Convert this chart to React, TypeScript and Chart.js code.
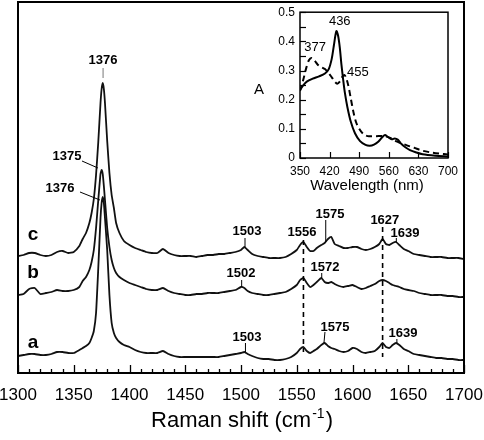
import React, { useEffect, useRef } from "react";
import { Chart, registerables } from "chart.js";

Chart.register(...registerables);

const FONT = 'Arial, "Liberation Sans", Helvetica, sans-serif';

// ---------- Main Raman spectra ----------
const ramanShift = [
  1300, 1305, 1310, 1315, 1320, 1325, 1330, 1335, 1340, 1345, 1350, 1355,
  1358, 1361, 1364, 1366, 1368, 1370, 1372, 1374, 1375, 1376, 1377, 1378, 1380, 1382, 1384, 1386, 1388, 1391, 1395,
  1400, 1405, 1410, 1415, 1420, 1425, 1430, 1435, 1440, 1445, 1450, 1455, 1460, 1465, 1470, 1475, 1480, 1485, 1490, 1495, 1500,
  1503, 1506,
  1510, 1515, 1520, 1525, 1530, 1535, 1540, 1545, 1550,
  1553, 1556, 1559, 1562, 1565, 1568, 1572, 1575, 1578, 1581, 1584, 1588, 1592, 1596, 1600, 1604, 1608, 1612, 1616, 1620, 1624, 1627, 1630, 1633, 1636, 1639, 1642, 1646, 1650,
  1655, 1660, 1665, 1670, 1675, 1680, 1685, 1690, 1695, 1700,
];

const traceC = [
  117, 118, 120, 120, 118, 117, 118, 121, 122, 120, 121, 127,
  134, 140, 150, 160, 174, 198, 231, 270, 284, 290, 284, 270, 232, 200, 178, 165, 150, 140, 132,
  128, 125, 123, 121, 120, 120, 124, 120, 118, 117, 117, 117, 116, 117, 118, 118, 119, 119, 120, 121, 123,
  126, 123,
  119, 117, 116, 115, 115, 115, 116, 119, 123,
  128, 131, 126, 122, 122, 125, 128, 130, 134, 136, 129, 127, 125, 125, 126, 126, 124, 123, 124, 126, 129, 134, 129, 128, 130, 131, 128, 124, 122,
  119, 118, 117, 116, 116, 116, 115, 115, 115, 114,
];

const traceB = [
  78, 79, 84, 85, 79, 80, 81, 83, 82, 82, 83, 86,
  92, 96, 103, 111, 123, 145, 173, 199, 203, 199, 187, 173, 145, 126, 113, 105, 100, 96, 93,
  90, 88, 86, 84, 83, 83, 85, 82, 80, 79, 78, 78, 79, 79, 80, 80, 80, 81, 82, 83, 86,
  85, 82,
  80, 79, 78, 78, 79, 80, 81, 84, 88,
  93, 95, 90, 86, 88, 91, 95, 91, 90, 91, 89, 87, 86, 87, 88, 86, 84, 85, 87, 89, 92, 93, 92, 90, 88, 87, 86, 84, 83,
  82, 80, 79, 78, 78, 78, 77, 77, 76, 76,
];

const traceA = [
  17, 18, 19, 19, 18, 18, 19, 21, 21, 20, 20, 23,
  25, 27, 30, 35, 42, 60, 105, 155, 170, 176, 170, 155, 123, 78, 50, 40, 35, 31, 28,
  26, 23, 21, 20, 20, 20, 22, 19, 17, 16, 16, 16, 16, 16, 16, 16, 16, 17, 18, 19, 20,
  21, 19,
  17, 15, 14, 14, 13, 13, 14, 16, 20,
  24, 26, 22, 20, 22, 24, 28, 30, 27, 25, 24, 22, 21, 22, 25, 24, 21, 20, 21, 22, 26, 30, 26, 25, 28, 30, 28, 24, 22,
  19, 18, 17, 16, 15, 15, 14, 14, 13, 13,
];

const traceNames = ["c", "b", "a"];
const mainTickLabels = ["1300", "1350", "1400", "1450", "1500", "1550", "1600", "1650", "1700"];
const mainTickStep = 50;
const mainMinorStep = 10;
const dashedMarkers = [
  { x: 1556, from: 133, to: 21 },
  { x: 1627, from: 146, to: 16 },
];

// peak annotations (text + leader line, in data coordinates)
const peakLabels = [
  { text: "1376", x: 1376.2, y: 313, line: [1376.3, 305, 1376.3, 295], lineColor: "#777" },
  { text: "1375", x: 1344, y: 217, line: [1357.4, 212, 1371.7, 205] },
  { text: "1376", x: 1337.7, y: 185, line: [1355.6, 181, 1373.5, 173] },
  { text: "1503", x: 1505.4, y: 142, line: [1503.6, 135, 1503.6, 126] },
  { text: "1556", x: 1554.7, y: 141 },
  { text: "1575", x: 1579.8, y: 159, line: [1576, 153, 1576, 131] },
  { text: "1627", x: 1629, y: 153 },
  { text: "1639", x: 1647, y: 140, line: [1639.3, 135, 1639.3, 130] },
  { text: "1502", x: 1500, y: 100, line: [1500.6, 93, 1500.6, 86] },
  { text: "1572", x: 1575.3, y: 106, line: [1572.4, 100, 1572.4, 95] },
  { text: "1503", x: 1505.4, y: 36, line: [1504, 30, 1504, 21] },
  { text: "1575", x: 1584.3, y: 46, line: [1575.3, 41, 1574.4, 30] },
  { text: "1639", x: 1645.3, y: 40, line: [1639.8, 34, 1639.8, 30] },
];
const traceLabelPos = [
  { text: "c", x: 1313.5, y: 138 },
  { text: "b", x: 1313.5, y: 100 },
  { text: "a", x: 1313.5, y: 30 },
];

// ---------- Inset absorption spectra ----------
const wavelengthSolid = [350, 358, 366, 380, 395, 409, 418, 425, 430, 436, 440, 444, 448, 452, 456, 462, 470, 480, 492, 505, 515, 525, 535, 545, 551, 558, 567, 574, 581, 590, 600, 610, 625, 640, 670, 700];
const absorbanceSolid = [0.233, 0.25, 0.262, 0.272, 0.28, 0.29, 0.305, 0.34, 0.385, 0.435, 0.42, 0.38, 0.32, 0.27, 0.225, 0.175, 0.125, 0.085, 0.058, 0.045, 0.042, 0.046, 0.056, 0.072, 0.079, 0.072, 0.064, 0.067, 0.063, 0.048, 0.036, 0.027, 0.019, 0.013, 0.008, 0.005];
const wavelengthDashed = [350, 358, 365, 371, 377, 384, 392, 400, 409, 418, 426, 432, 438, 444, 450, 455, 459, 464, 470, 476, 482, 490, 500, 510, 530, 550, 565, 580, 600, 620, 640, 660, 680, 700];
const absorbanceDashed = [0.23, 0.27, 0.31, 0.335, 0.343, 0.335, 0.32, 0.312, 0.305, 0.29, 0.275, 0.262, 0.255, 0.262, 0.278, 0.285, 0.275, 0.25, 0.205, 0.16, 0.125, 0.1, 0.082, 0.075, 0.075, 0.075, 0.068, 0.056, 0.045, 0.035, 0.025, 0.019, 0.015, 0.012];
const insetPeakLabels = [
  { text: "436", x: 444, y: 0.467 },
  { text: "377", x: 385.5, y: 0.378 },
  { text: "455", x: 487, y: 0.293 },
];

const toXY = (xs: number[], ys: number[]) => xs.map((x, i) => ({ x, y: ys[i] }));
const plainTick = (v: any) => String(v);

const mainDecor = {
  id: "mainDecor",
  afterDraw(chart: any) {
    const { ctx, chartArea: ca, scales } = chart;
    const x = scales.x;
    const y = scales.y;
    ctx.save();
    ctx.strokeStyle = "#000";
    ctx.lineWidth = 2;
    ctx.strokeRect(ca.left, ca.top, ca.right - ca.left, ca.bottom - ca.top);
    // inward ticks
    ctx.lineWidth = 1.3;
    for (let v = x.min; v <= x.max; v += mainMinorStep) {
      const px = Math.round(x.getPixelForValue(v)) + 0.5;
      const len = v % mainTickStep === 0 ? 8 : 4;
      ctx.beginPath();
      ctx.moveTo(px, ca.bottom);
      ctx.lineTo(px, ca.bottom - len);
      ctx.stroke();
    }
    // tick labels
    ctx.fillStyle = "#000";
    ctx.textAlign = "center";
    ctx.textBaseline = "alphabetic";
    ctx.font = `17px ${FONT}`;
    mainTickLabels.forEach((t) => {
      ctx.fillText(t, x.getPixelForValue(Number(t)), ca.bottom + 27);
    });
    // dashed markers
    ctx.lineWidth = 1.6;
    ctx.setLineDash([5, 4]);
    dashedMarkers.forEach((d) => {
      const px = x.getPixelForValue(d.x);
      ctx.beginPath();
      ctx.moveTo(px, y.getPixelForValue(d.from));
      ctx.lineTo(px, y.getPixelForValue(d.to));
      ctx.stroke();
    });
    ctx.setLineDash([]);
    // peak labels
    ctx.textAlign = "center";
    ctx.textBaseline = "middle";
    ctx.font = `bold 13px ${FONT}`;
    peakLabels.forEach((l) => {
      ctx.fillText(l.text, x.getPixelForValue(l.x), y.getPixelForValue(l.y));
      if (l.line) {
        ctx.strokeStyle = l.lineColor || "#000";
        ctx.lineWidth = 1;
        ctx.beginPath();
        ctx.moveTo(x.getPixelForValue(l.line[0]), y.getPixelForValue(l.line[1]));
        ctx.lineTo(x.getPixelForValue(l.line[2]), y.getPixelForValue(l.line[3]));
        ctx.stroke();
      }
    });
    ctx.font = `bold 19px ${FONT}`;
    traceLabelPos.forEach((l) => {
      ctx.fillText(l.text, x.getPixelForValue(l.x), y.getPixelForValue(l.y));
    });
    // axis title with superscript
    const cx = (ca.left + ca.right) / 2 + 1;
    const base = ca.bottom + 54;
    ctx.textAlign = "left";
    ctx.textBaseline = "alphabetic";
    ctx.font = `22px ${FONT}`;
    const t1 = "Raman shift (cm";
    const t3 = ")";
    const w1 = ctx.measureText(t1).width;
    const w3 = ctx.measureText(t3).width;
    ctx.font = `14px ${FONT}`;
    const t2 = "-1";
    const w2 = ctx.measureText(t2).width + 2;
    const start = cx - (w1 + w2 + w3) / 2;
    ctx.font = `22px ${FONT}`;
    ctx.fillText(t1, start, base);
    ctx.fillText(t3, start + w1 + w2, base);
    ctx.font = `14px ${FONT}`;
    ctx.fillText(t2, start + w1 + 1, base - 9);
    ctx.restore();
  },
};

const insetDecor = {
  id: "insetDecor",
  afterDraw(chart: any) {
    const { ctx, chartArea: ca, scales } = chart;
    const x = scales.x;
    const y = scales.y;
    ctx.save();
    ctx.strokeStyle = "#000";
    ctx.lineWidth = 1.5;
    ctx.strokeRect(ca.left, ca.top, ca.right - ca.left, ca.bottom - ca.top);
    ctx.lineWidth = 1.2;
    for (let i = 0; i <= 10; i++) {
      const py = Math.round(y.getPixelForValue(i * 0.05)) + 0.5;
      ctx.beginPath();
      ctx.moveTo(ca.left, py);
      ctx.lineTo(ca.left + 6, py);
      ctx.stroke();
    }
    for (let v = 350; v <= 700; v += 70) {
      const px = Math.round(x.getPixelForValue(v)) + 0.5;
      ctx.beginPath();
      ctx.moveTo(px, ca.bottom);
      ctx.lineTo(px, ca.bottom - 6);
      ctx.stroke();
    }
    ctx.fillStyle = "#000";
    ctx.textAlign = "center";
    ctx.textBaseline = "middle";
    ctx.font = `13px ${FONT}`;
    insetPeakLabels.forEach((l) => {
      ctx.fillText(l.text, x.getPixelForValue(l.x), y.getPixelForValue(l.y));
    });
    ctx.font = `15px ${FONT}`;
    ctx.fillText("A", ca.left - 41, y.getPixelForValue(0.233));
    ctx.fillText("Wavelength (nm)", ca.left + 67, ca.bottom + 28);
    ctx.restore();
  },
};

export default function App() {
  const mainRef = useRef<HTMLCanvasElement>(null);
  const insetRef = useRef<HTMLCanvasElement>(null);

  useEffect(() => {
    const series = [traceC, traceB, traceA];
    const main = new Chart(mainRef.current!, {
      type: "line",
      data: {
        datasets: series.map((s, i) => ({
          label: traceNames[i],
          data: toXY(ramanShift, s),
          borderColor: "#111",
          borderWidth: 1.8,
          pointRadius: 0,
          tension: 0.15,
          fill: false,
        })),
      },
      options: {
        responsive: false,
        animation: false,
        devicePixelRatio: 1,
        layout: { padding: { left: 18, right: 20, top: 2, bottom: 0 } },
        plugins: { legend: { display: false }, tooltip: { enabled: false } },
        scales: {
          x: {
            type: "linear",
            min: 1300,
            max: 1700,
            afterFit: (s: any) => {
              s.height = 67;
            },
            ticks: { display: false, stepSize: mainTickStep },
            grid: { display: false, drawTicks: false },
            border: { display: false },
          },
          y: { display: false, min: 0, max: 371 },
        },
      },
      plugins: [mainDecor],
    } as any);

    const inset = new Chart(insetRef.current!, {
      type: "line",
      data: {
        datasets: [
          {
            label: "solid",
            data: toXY(wavelengthSolid, absorbanceSolid),
            borderColor: "#000",
            borderWidth: 2,
            pointRadius: 0,
            tension: 0.3,
          },
          {
            label: "dashed",
            data: toXY(wavelengthDashed, absorbanceDashed),
            borderColor: "#000",
            borderWidth: 2,
            borderDash: [6, 4],
            pointRadius: 0,
            tension: 0.3,
          },
        ],
      },
      options: {
        responsive: false,
        animation: false,
        devicePixelRatio: 1,
        layout: { padding: { left: 0, right: 22, top: 12, bottom: 0 } },
        plugins: { legend: { display: false }, tooltip: { enabled: false } },
        scales: {
          x: {
            type: "linear",
            min: 350,
            max: 700,
            afterFit: (s: any) => {
              s.height = 42;
            },
            ticks: { stepSize: 70, color: "#000", padding: 6, maxRotation: 0, callback: plainTick, font: { family: FONT, size: 12 } },
            grid: { display: false, drawTicks: false },
            border: { display: false },
          },
          y: {
            min: 0,
            max: 0.5,
            afterFit: (s: any) => {
              s.width = 70;
            },
            ticks: { stepSize: 0.1, color: "#000", padding: 5, font: { family: FONT, size: 12 } },
            grid: { display: false, drawTicks: false },
            border: { display: false },
          },
        },
      },
      plugins: [insetDecor],
    } as any);

    return () => {
      main.destroy();
      inset.destroy();
    };
  }, []);

  return (
    <div style={{ position: "fixed", left: 0, top: 0, width: 484, height: 440, background: "#fff" }}>
      <canvas ref={mainRef} width={484} height={440} style={{ position: "absolute", left: 0, top: 0 }} />
      <canvas ref={insetRef} width={240} height={200} style={{ position: "absolute", left: 230, top: 0 }} />
    </div>
  );
}
